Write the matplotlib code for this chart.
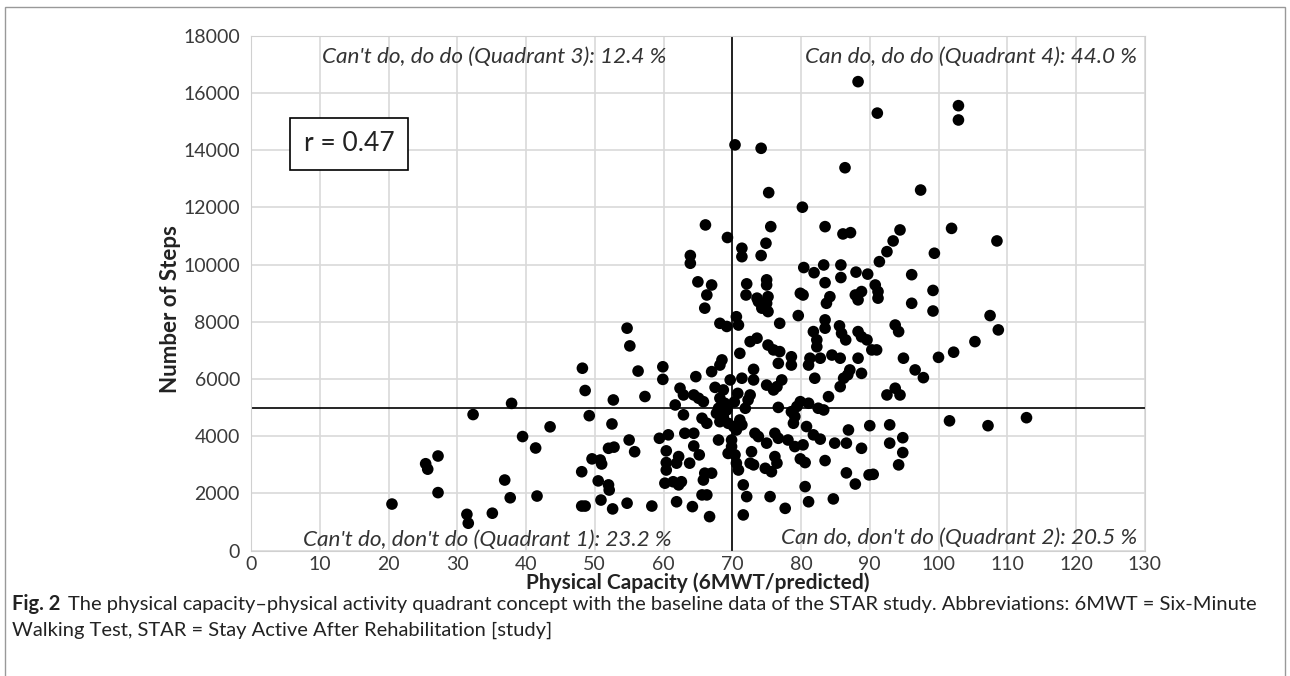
import numpy as np
import matplotlib
matplotlib.use("Agg")
import matplotlib.pyplot as plt
from matplotlib.patches import Rectangle

plt.rcParams['font.family'] = ['Lato', 'DejaVu Sans']

# quadrant 1: can't do, don't do
q1_capacity = [32.3, 43.5, 39.5, 41.4, 27.2, 25.4, 25.7, 36.9, 27.2, 37.7, 41.6, 20.5, 31.4, 31.6, 35.1,
               49.2, 52.5, 60.7, 59.4, 55.0, 52.0, 52.8, 55.8, 60.4, 49.6, 50.8, 51.0, 60.4, 48.1, 50.5,
               52.0, 52.1, 60.2, 60.4, 48.1, 48.6, 50.9, 52.6, 54.7, 58.3, 61.9, 64.2, 66.7,
               68.0, 69.2, 67.7, 68.7, 68.2, 69.4, 62.9, 65.6, 66.3, 63.1, 64.4, 68.0, 69.9, 69.9, 64.4,
               65.2, 69.4, 62.2, 61.9, 63.8, 66.0, 67.0, 65.8, 61.4, 62.6, 62.2, 65.6, 66.3]
q1_steps = [4760, 4330, 3990, 3590, 3310, 3040, 2850, 2470, 2030, 1850, 1910, 1630, 1270, 960, 1310,
            4720, 4430, 4050, 3930, 3870, 3580, 3620, 3460, 3490, 3210, 3170, 3030, 3080, 2760, 2440,
            2300, 2120, 2360, 2820, 1560, 1560, 1770, 1460, 1660, 1560, 1710, 1540, 1190,
            4980, 4920, 4805, 4690, 4510, 4455, 4750, 4630, 4455, 4105, 4105, 3870, 3870, 3640, 3660,
            3350, 3400, 3290, 3060, 3060, 2710, 2710, 2470, 2410, 2410, 2300, 1950, 1950]

# quadrant 2: can do, don't do
q2_capacity = [78.6, 78.9, 71.9, 71.1, 71.4, 70.6, 70.2, 73.3, 73.8, 75.0, 76.2, 76.7, 78.1, 79.1,
               72.8, 70.4, 70.6, 70.9, 72.6, 73.1, 74.8, 75.7, 76.2, 76.5, 71.6, 72.1, 75.5, 79.1,
               82.5, 83.3, 80.8, 81.8, 82.8, 84.9, 86.9, 86.6, 88.8, 90.0, 92.9, 92.9, 80.3, 79.9,
               80.6, 83.5, 86.6, 87.9, 89.9, 90.5, 80.6, 81.1, 84.7, 77.7, 71.6,
               101.6, 107.2, 112.8, 94.8, 94.8, 94.2]
q2_steps = [4860, 4455, 4980, 4570, 4400, 4220, 4340, 4105, 3990, 3760, 4105, 3930, 3870, 3640,
            3460, 3350, 3060, 2820, 3060, 3000, 2880, 2760, 3290, 3060, 2300, 1890, 1890, 4690,
            4980, 4920, 4340, 4050, 3900, 3760, 4220, 3760, 3580, 4370, 4400, 3760, 3700, 3210,
            3080, 3150, 2720, 2330, 2650, 2670, 2240, 1710, 1810, 1480, 1250,
            4540, 4370, 4650, 3950, 3430, 3000]

# quadrant 3: can't do, do do
q3_capacity = [37.9, 54.7, 55.1, 48.2, 56.3, 59.9, 59.9, 48.6, 52.7, 57.3,
               65.0, 67.0, 66.3, 66.1, 69.3, 63.9, 63.9,
               66.0, 68.2, 69.2, 68.5, 68.2, 67.0, 64.7, 69.7, 62.4, 62.9, 67.5, 68.7, 64.4, 65.1,
               65.8, 61.7, 68.2, 68.9]
q3_steps = [5150, 7780, 7160, 6380, 6280, 6430, 5990, 5600, 5270, 5390,
            9400, 9290, 8940, 11390, 10950, 10320, 10050,
            8480, 7950, 7840, 6670, 6490, 6260, 6085, 5970, 5680, 5445, 5710, 5620, 5445, 5330,
            5210, 5095, 5330, 5155]

# quadrant 4: can do, do do
q4_capacity = [73.8, 75.0, 74.3, 75.2, 70.6, 70.9, 76.9, 79.6, 72.6, 73.6, 75.2, 76.0, 76.9, 76.7,
               78.6, 78.6, 71.1, 73.1, 71.4, 73.1, 75.0, 76.0, 76.5, 77.2, 72.6, 72.3, 76.7, 79.4,
               70.3, 70.8,
               80.4, 81.9, 83.3, 85.8, 85.8, 88.0, 89.7, 96.1, 83.5, 90.8, 91.2, 91.2, 79.9, 80.3,
               84.2, 83.7, 87.9, 88.8, 88.3, 96.1, 83.5, 83.5, 85.6, 85.9, 86.5, 81.8, 82.3, 82.3,
               88.3, 88.8, 89.6, 93.7, 94.2, 90.3, 91.0, 81.3, 82.8, 84.5, 85.7, 81.1, 88.3, 94.9,
               87.1, 86.2, 85.7, 88.8, 86.8, 82.0, 84.0, 92.5, 93.7, 94.4, 96.6, 79.9, 81.1,
               99.2, 99.2, 100.0, 102.2, 105.3, 107.5, 108.7, 97.8, 102.9, 102.9, 97.4, 101.9,
               108.5, 99.4,
               70.4, 74.2, 88.3, 91.1, 86.4, 75.3, 80.2, 71.4, 71.4, 75.6, 74.9, 74.2, 83.5, 86.1,
               87.2, 94.4, 93.4, 92.5, 91.4, 72.1, 72.0, 75.0, 75.0, 73.6, 75.2]
q4_steps = [8710, 8650, 8480, 8360, 8180, 7890, 7950, 8220, 7310, 7430, 7190, 7020, 6960, 6550,
            6780, 6490, 6900, 6340, 6030, 5970, 5790, 5620, 5735, 5970, 5445, 5270, 5010, 5040,
            5200, 5500,
            9900, 9720, 9990, 9990, 9550, 9740, 9670, 9650, 9370, 9290, 9060, 8830, 9000, 8940,
            8880, 8650, 8940, 9060, 8770, 8650, 8070, 7780, 7860, 7600, 7370, 7660, 7370, 7130,
            7660, 7480, 7370, 7890, 7660, 7020, 7020, 6730, 6730, 6840, 6730, 6490, 6730, 6730,
            6320, 6030, 5735, 6200, 6150, 6030, 5385, 5445, 5680, 5445, 6320, 5210, 5155,
            9100, 8380, 6760, 6940, 7310, 8220, 7720, 6050, 15560, 15060, 12610, 11270,
            10830, 10400,
            14190, 14070, 16400, 15300, 13390, 12520, 12010, 10575, 10280, 11330, 10750, 10320, 11330, 11075,
            11120, 11215, 10830, 10456, 10106, 9330, 8940, 9470, 9290, 8830, 8880]

quadrant_labels = ["Can't do, don't do (Quadrant 1): 23.2 %",
                   "Can do, don't do (Quadrant 2): 20.5 %",
                   "Can't do, do do (Quadrant 3): 12.4 %",
                   "Can do, do do (Quadrant 4): 44.0 %"]
capacity_cut = 70
steps_cut = 5000
r_value = 0.47

capacity = np.array(q1_capacity + q2_capacity + q3_capacity + q4_capacity)
steps = np.array(q1_steps + q2_steps + q3_steps + q4_steps)

fig = plt.figure(figsize=(12.9, 6.76), dpi=100)
ax = fig.add_axes([0.1946, 0.1854, 0.6928, 0.7615])

ax.scatter(capacity, steps, s=70, color='black', edgecolors='none', zorder=3)
ax.axvline(capacity_cut, color='black', lw=1.2, zorder=2)
ax.axhline(steps_cut, color='black', lw=1.2, zorder=2)

ax.set_xlim(0, 130)
ax.set_ylim(0, 18000)
ax.set_xticks(np.arange(0, 131, 10))
ax.set_yticks(np.arange(0, 18001, 2000))
ax.grid(True, color='#d9d9d9', lw=1.2, zorder=0)
ax.set_axisbelow(True)
for s in ax.spines.values():
    s.set_color('#d0d0d0')
ax.tick_params(length=0, labelsize=14, colors='#3a3a3a')
ax.tick_params(axis='x', pad=4)
ax.tick_params(axis='y', pad=8)

ax.set_xlabel('Physical Capacity (6MWT/predicted)', fontsize=15, fontweight='bold', color='#222222')
ax.set_ylabel('Number of Steps', fontsize=16, fontweight='bold', color='#222222')
ax.xaxis.set_label_coords(0.5, -0.063)
ax.xaxis.label.set_va('center')
ax.yaxis.set_label_coords(-0.09, 0.47)
ax.yaxis.label.set_va('center')

qstyle = dict(fontsize=16.2, style='italic', color='#333333', transform=ax.transAxes, va='center')
ax.text(0.058, 0.020, quadrant_labels[0], ha='left', **qstyle)
ax.text(0.992, 0.024, quadrant_labels[1], ha='right', **qstyle)
ax.text(0.079, 0.96, quadrant_labels[2], ha='left', **qstyle)
ax.text(0.991, 0.96, quadrant_labels[3], ha='right', **qstyle)

ax.text(0.11, 0.79, f'r = {r_value:.2f}', fontsize=19, color='#222222', transform=ax.transAxes,
        ha='center', va='center',
        bbox=dict(boxstyle='square,pad=0.52', fc='white', ec='black', lw=1.2))

# caption
fig.text(0.0093, 0.1065, 'Fig. 2', fontsize=14.5, fontweight='bold', color='#222222', va='center')
fig.text(0.0527, 0.1065, 'The physical capacity–physical activity quadrant concept with the baseline data of '
         'the STAR study. Abbreviations: 6MWT = Six-Minute', fontsize=14.5, color='#222222', va='center')
fig.text(0.0093, 0.068, 'Walking Test, STAR = Stay Active After Rehabilitation [study]',
         fontsize=14.5, color='#222222', va='center')

fig.patches.append(Rectangle((0.004, -0.01), 0.992, 1.0, transform=fig.transFigure,
                             fill=False, ec='#999999', lw=1))

fig.savefig('out.png', dpi=100)
